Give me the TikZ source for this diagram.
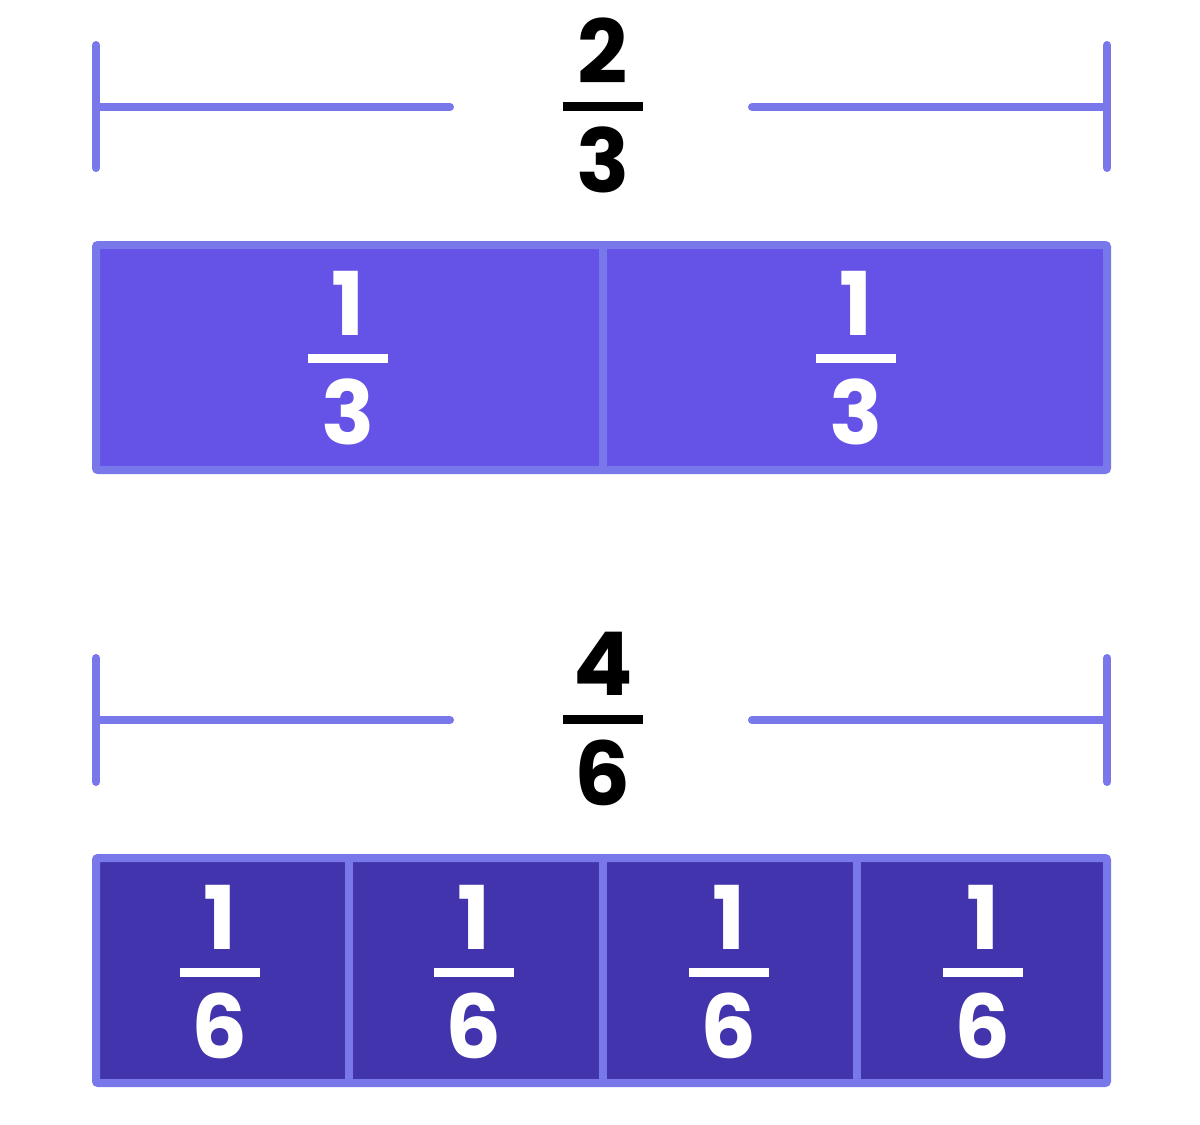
\documentclass[tikz,border=0pt]{standalone}
\usepackage{fontspec}
\setmainfont{Poppins}
\usetikzlibrary{positioning,calc}
\definecolor{edge}{RGB}{120,120,235}
\definecolor{thirds}{RGB}{101,82,230}
\definecolor{sixths}{RGB}{66,52,172}

% fraction: name, bar centre, numerator, denominator, colour
\newcommand{\frc}[5]{%
  \coordinate (#1) at #2;
  \draw[fbar,#5] ($(#1)+(-40,0)$) -- ($(#1)+(40,0)$);
  \node[digit,text=#5] (#1n) at ($(#1)+(0,-55)$) {#3};
  \node[digit,text=#5] (#1d) at ($(#1)+(0,54)$) {#4};}

\begin{document}
\begin{tikzpicture}[x=1pt,y=-1pt,
  digit/.style={font=\fontsize{88}{88}\selectfont\bfseries,inner sep=0pt},
  fbar/.style={line width=9pt},
  brk/.style={edge,line width=8pt,line cap=round},
  strip/.style={draw=edge,line width=8pt,rounded corners=2pt}]
 \useasboundingbox (0,0) rectangle (1200,1125);
 % 2/3 bracket
 \coordinate (tl) at (96,107); \coordinate (tr) at (1107,107);
 \coordinate (tlm) at (450,107); \coordinate (trm) at (752,107);
 \draw[brk] ($(tl)+(0,-62)$) -- ($(tl)+(0,61)$);
 \draw[brk] ($(tr)+(0,-62)$) -- ($(tr)+(0,61)$);
 \draw[brk] (tl) -- (tlm); \draw[brk] (trm) -- (tr);
 \frc{ft}{(603,106)}{2}{3}{black}
 % thirds
 \draw[strip,fill=thirds] (96,245) coordinate (a0) rectangle (1107,470) coordinate (a1);
 \draw[edge,line width=8pt] (603,245) -- (603,470);
 \frc{fa}{(348,358)}{1}{3}{white}
 \frc{fb}{(856,358)}{1}{3}{white}
 % 4/6 bracket
 \coordinate (bl) at (96,720); \coordinate (br) at (1107,720);
 \coordinate (blm) at (450,720); \coordinate (brm) at (752,720);
 \draw[brk] ($(bl)+(0,-62)$) -- ($(bl)+(0,62)$);
 \draw[brk] ($(br)+(0,-62)$) -- ($(br)+(0,62)$);
 \draw[brk] (bl) -- (blm); \draw[brk] (brm) -- (br);
 \frc{fs}{(603,719)}{4}{6}{black}
 % sixths
 \draw[strip,fill=sixths] (96,858) rectangle (1107,1083);
 \foreach \x in {349,603,857} \draw[edge,line width=8pt] (\x,858) -- (\x,1083);
 \foreach \x/\n in {220/c,474/d,729/e,983/f} {\frc{f\n}{(\x,972)}{1}{6}{white}}
\end{tikzpicture}
\end{document}
